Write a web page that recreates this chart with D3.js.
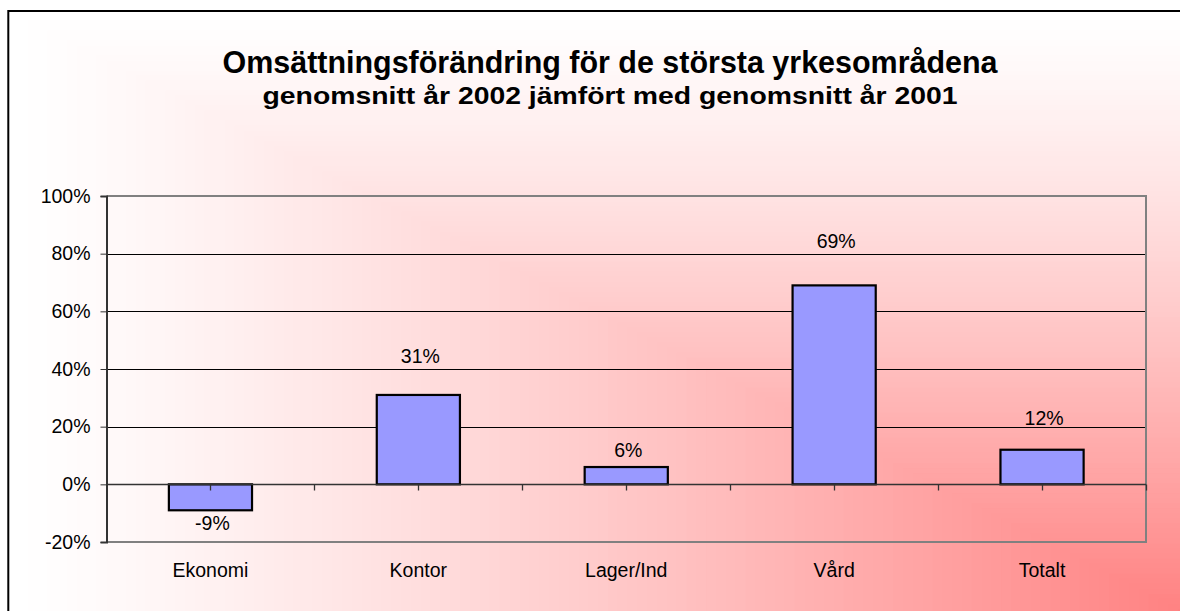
<!DOCTYPE html>
<html>
<head>
<meta charset="utf-8">
<script src="https://cdn.jsdelivr.net/npm/d3@7"></script>
<style>
  body { margin: 0; background: #fff; }
  text { font-family: "Liberation Sans", Arial, sans-serif; fill: #000; }
</style>
</head>
<body>
<div id="chart"></div>
<script>
const categories = ["Ekonomi", "Kontor", "Lager/Ind", "Vård", "Totalt"];
const values = [-0.09, 0.31, 0.06, 0.69, 0.12];
const yTicks = [-0.2, 0, 0.2, 0.4, 0.6, 0.8, 1.0];
const title = "Omsättningsförändring för de största yrkesområdena";
const subtitle = "genomsnitt år 2002 jämfört med genomsnitt år 2001";

const width = 1180;
const height = 611;
const plot = { left: 106.5, right: 1146, top: 196, bottom: 542 };
const pct = (v) => d3.format(".0%")(v).replace("−", "-");

const svg = d3.select("#chart")
  .append("svg")
  .attr("width", width)
  .attr("height", height);

// corner gradient, white top-left to red bottom-right (contours follow min(u, v))
const area = { x: 8, y: 10, w: 1180, h: 604 };
const steps = d3.range(0, 1, 1 / 120);
const bg = d3.interpolateRgb("#ffffff", "#ff8080");
svg.append("g")
  .selectAll("rect")
  .data(steps)
  .join("rect")
    .attr("x", (t) => area.x + t * area.w)
    .attr("y", (t) => area.y + t * area.h)
    .attr("width", (t) => area.w * (1 - t) + 1)
    .attr("height", (t) => area.h * (1 - t) + 1)
    .attr("fill", (t) => bg(Math.pow(t, 1.25)));

svg.append("rect")
  .attr("x", 8.3)
  .attr("y", 11)
  .attr("width", 1200)
  .attr("height", 620)
  .attr("fill", "none")
  .attr("stroke", "#000")
  .attr("stroke-width", 2);

svg.append("text")
  .attr("x", 610)
  .attr("y", 73)
  .attr("text-anchor", "middle")
  .attr("textLength", 775)
  .attr("lengthAdjust", "spacingAndGlyphs")
  .style("font-size", "31px")
  .style("font-weight", "bold")
  .text(title);

svg.append("text")
  .attr("x", 610)
  .attr("y", 104)
  .attr("text-anchor", "middle")
  .attr("textLength", 695)
  .attr("lengthAdjust", "spacingAndGlyphs")
  .style("font-size", "24px")
  .style("font-weight", "bold")
  .text(subtitle);

const x = d3.scaleBand()
  .domain(categories)
  .range([plot.left, plot.right]);

const y = d3.scaleLinear()
  .domain([-0.2, 1.0])
  .range([plot.bottom, plot.top]);

// gridlines
svg.append("g")
  .selectAll("line")
  .data(yTicks.filter((v) => v > 0 && v < 1))
  .join("line")
    .attr("x1", plot.left)
    .attr("x2", plot.right)
    .attr("y1", (d) => Math.round(y(d)) + 0.5)
    .attr("y2", (d) => Math.round(y(d)) + 0.5)
    .attr("stroke", "#000")
    .attr("stroke-width", 1);

// plot border (top, right, bottom)
svg.append("path")
  .attr("d", `M${plot.left},${plot.top} H${plot.right} V${plot.bottom} H${plot.left}`)
  .attr("fill", "none")
  .attr("stroke", "#808080")
  .attr("stroke-width", 2);

// y axis
const yAxis = svg.append("g")
  .attr("transform", `translate(${plot.left}, 0)`)
  .call(d3.axisLeft(y)
    .tickValues(yTicks)
    .tickFormat(pct)
    .tickSize(6)
    .tickPadding(10));
yAxis.select(".domain").attr("stroke", "#333").attr("stroke-width", 2);
yAxis.selectAll(".tick line").attr("stroke", "#333");
yAxis.selectAll("text")
  .attr("fill", "#000")
  .style("font-size", "19.5px")
  .style("font-family", "'Liberation Sans', Arial, sans-serif");

// bars
const barWidth = x.bandwidth() * 0.4;
svg.append("g")
  .selectAll("rect")
  .data(values)
  .join("rect")
    .attr("x", (d, i) => x(categories[i]) + (x.bandwidth() - barWidth) / 2)
    .attr("y", (d) => y(Math.max(0, d)))
    .attr("width", barWidth)
    .attr("height", (d) => Math.abs(y(d) - y(0)))
    .attr("fill", "#9999ff")
    .attr("stroke", "#000")
    .attr("stroke-width", 2.2);

// x axis on the zero line, ticks at every half category
const zeroY = Math.round(y(0)) + 0.5;
svg.append("line")
  .attr("x1", plot.left)
  .attr("x2", plot.right)
  .attr("y1", zeroY)
  .attr("y2", zeroY)
  .attr("stroke", "#333")
  .attr("stroke-width", 1.3);
const half = x.step() / 2;
svg.append("g")
  .selectAll("line")
  .data(d3.range(1, categories.length * 2 + 1))
  .join("line")
    .attr("x1", (k) => Math.round(plot.left + k * half) + 0.5)
    .attr("x2", (k) => Math.round(plot.left + k * half) + 0.5)
    .attr("y1", zeroY)
    .attr("y2", zeroY + 6)
    .attr("stroke", "#333")
    .attr("stroke-width", 1.3);

// category labels
svg.append("g")
  .selectAll("text")
  .data(categories)
  .join("text")
    .attr("x", (d) => x(d) + x.bandwidth() / 2)
    .attr("y", 577)
    .attr("text-anchor", "middle")
    .style("font-size", "19.5px")
    .text((d) => d);

// value labels (label gaps set by hand in the original)
const labelGap = [10, 32, 10, 37, 25];
svg.append("g")
  .selectAll("text")
  .data(values)
  .join("text")
    .attr("x", (d, i) => x(categories[i]) + x.bandwidth() / 2 + 2)
    .attr("y", (d, i) => d >= 0 ? y(d) - labelGap[i] : y(d) + 20)
    .attr("text-anchor", "middle")
    .style("font-size", "19.5px")
    .text(pct);
</script>
</body>
</html>
